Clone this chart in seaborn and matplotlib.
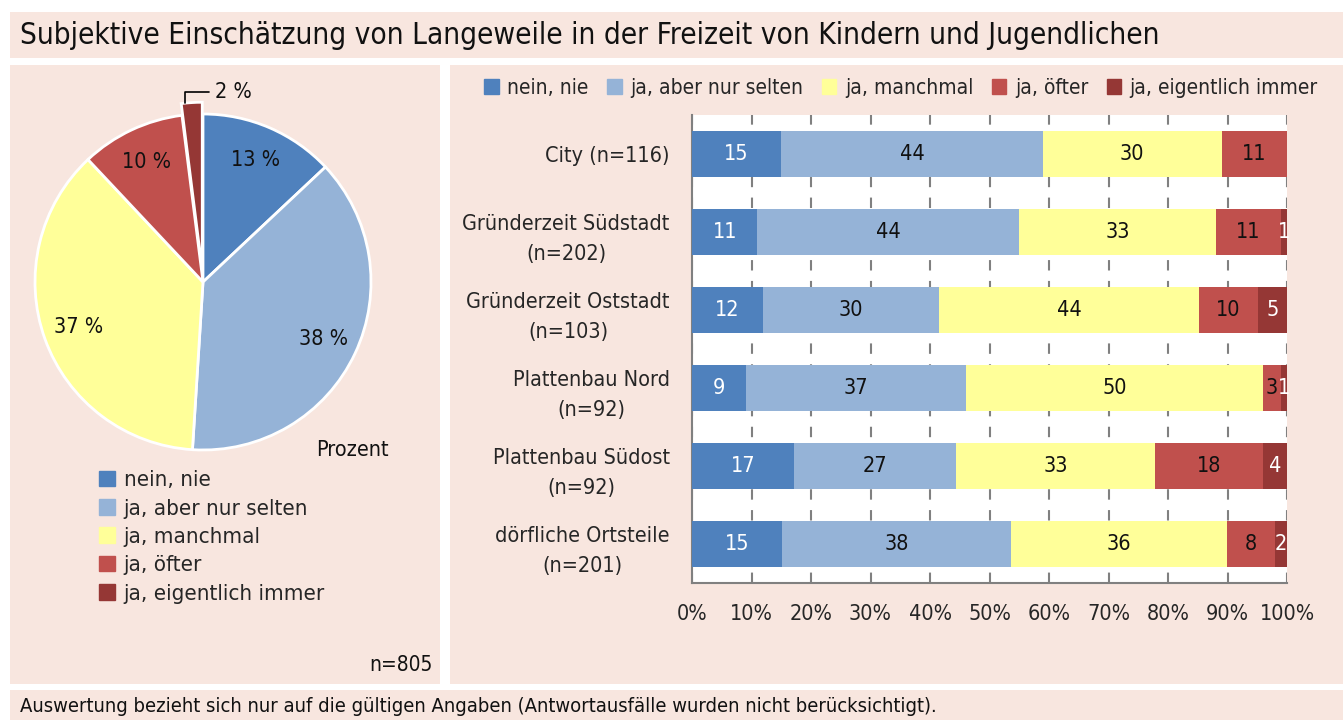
import numpy as np
import pandas as pd
import matplotlib
matplotlib.use('Agg')
import matplotlib.pyplot as plt
import matplotlib.patches as mpatches
import seaborn as sns

# Daten
antworten = ['nein, nie', 'ja, aber nur selten', 'ja, manchmal', 'ja, öfter', 'ja, eigentlich immer']
pie_werte = [13, 38, 37, 10, 2]

gebiete = ['City (n=116)', 'Gründerzeit Südstadt\n(n=202)', 'Gründerzeit Oststadt\n(n=103)',
           'Plattenbau Nord\n(n=92)', 'Plattenbau Südost\n(n=92)', 'dörfliche Ortsteile\n(n=201)']
nein_nie = [15, 11, 12, 9, 17, 15]
selten = [44, 44, 30, 37, 27, 38]
manchmal = [30, 33, 44, 50, 33, 36]
oefter = [11, 11, 10, 3, 18, 8]
immer = [0, 1, 5, 1, 4, 2]

farben = ['#4F81BD', '#95B3D7', '#FFFF99', '#C0504D', '#953735']
rosa = '#F8E6DF'

sns.set_style('white')
plt.rcParams['font.family'] = ['DejaVu Sans']
plt.rcParams['font.stretch'] = 'condensed'

W, H = 1343, 720
fig = plt.figure(figsize=(W / 100, H / 100), dpi=100)
fig.patch.set_facecolor('white')

def px_rect(x0, y0, x1, y1):
    return mpatches.Rectangle((x0 / W, 1 - y1 / H), (x1 - x0) / W, (y1 - y0) / H,
                              transform=fig.transFigure, facecolor=rosa, edgecolor='none', zorder=-10)

for r in [(10, 12, 1343, 58), (10, 65, 440, 684), (450, 65, 1343, 684), (10, 690, 1343, 720)]:
    fig.patches.append(px_rect(*r))

fig.text(20 / W, 1 - 35 / H, 'Subjektive Einschätzung von Langeweile in der Freizeit von Kindern und Jugendlichen',
         fontsize=21.3, va='center', ha='left', color='#111111')
fig.text(20 / W, 1 - 706 / H,
         'Auswertung bezieht sich nur auf die gültigen Angaben (Antwortausfälle wurden nicht berücksichtigt).',
         fontsize=14.5, va='center', ha='left', color='#111111')

# Kreisdiagramm
ax1 = fig.add_axes([35 / W, 1 - 450 / H, 336 / W, 336 / H])
wedges, texts, autotexts = ax1.pie(
    pie_werte, colors=farben, startangle=90, counterclock=False,
    explode=[0, 0, 0, 0, 0.07],
    autopct=lambda p: f'{p:.0f} %', pctdistance=0.79,
    wedgeprops=dict(edgecolor='white', linewidth=2),
    textprops=dict(fontsize=15.5, color='#111111'))
autotexts[-1].set_visible(False)
ax1.set_xlim(-1, 1)
ax1.set_ylim(-1, 1)
ax1.set_aspect('equal')
ax1.axis('off')

# Beschriftung des kleinen Segments mit Führungslinie
w = wedges[-1]
mid = np.deg2rad((w.theta1 + w.theta2) / 2)
start = (1.07 * np.cos(mid) - 0.04, 1.07 * np.sin(mid))
ax1.annotate(autotexts[-1].get_text(), xy=start, xytext=(0.07, 1.13),
             fontsize=15.5, va='center', ha='left', color='#111111', annotation_clip=False,
             arrowprops=dict(arrowstyle='-', color='black', lw=1.2,
                             connectionstyle='angle,angleA=0,angleB=90,rad=0', shrinkA=2, shrinkB=0))

handles = [mpatches.Patch(color=c) for c in farben]

fig.text(352 / W, 1 - 450 / H, 'Prozent', fontsize=15.5, ha='center', va='center', color='#111111')
fig.legend(handles, antworten, loc='upper left', bbox_to_anchor=(88 / W, 1 - 459 / H),
           frameon=False, fontsize=16, handlelength=0.7, handleheight=0.7, handletextpad=0.4,
           labelspacing=0.38, borderpad=0)
fig.text(433 / W, 1 - 665 / H, 'n=805', fontsize=15, ha='right', va='center', color='#111111')

# Gestapelte Balken
df = pd.DataFrame({a: v for a, v in zip(antworten, [nein_nie, selten, manchmal, oefter, immer])},
                  index=gebiete)
anteile = df.div(df.sum(axis=1), axis=0) * 100
kumuliert = anteile.cumsum(axis=1)

ax2 = fig.add_axes([692 / W, 1 - 583 / H, 595 / W, 468 / H])
ax2.set_facecolor('white')
for k in reversed(range(len(antworten))):
    sns.barplot(x=kumuliert.iloc[:, k].values, y=gebiete, color=farben[k], saturation=1,
                width=0.59, orient='h', linewidth=0, ax=ax2, zorder=3)

for i, g in enumerate(gebiete):
    for k, a in enumerate(antworten):
        v = df.loc[g, a]
        if v == 0:
            continue
        mitte = kumuliert.loc[g, a] - anteile.loc[g, a] / 2
        ax2.text(mitte, i, str(v), ha='center', va='center', fontsize=15.5, zorder=4,
                 color='white' if k in (0, 4) else '#111111')

ax2.set_xlim(0, 100)
ax2.set_ylim(5.5, -0.5)
ax2.set_xticks(range(0, 101, 10))
ax2.set_xticklabels([f'{t}%' for t in range(0, 101, 10)], fontsize=15.5)
ax2.set_yticks(range(len(gebiete)))
ax2.set_yticklabels(gebiete, fontsize=15.5, multialignment='center', linespacing=1.6)
ax2.set_yticks(np.arange(0.5, len(gebiete) - 1, 1), minor=True)
ax2.tick_params(axis='y', which='major', length=0, pad=16)
ax2.tick_params(axis='y', which='minor', length=7, width=1.5, color='#808080', direction='out')
ax2.tick_params(axis='x', length=12, width=1.5, color='#808080', direction='inout', pad=9)
ax2.grid(axis='x', color='#808080', linestyle=(0, (5, 5)), linewidth=1.5, zorder=1)
ax2.set_axisbelow(True)
for s in ['top', 'right']:
    ax2.spines[s].set_visible(False)
for s in ['left', 'bottom']:
    ax2.spines[s].set_color('#808080')
    ax2.spines[s].set_linewidth(1.5)
ax2.set_xlabel('')
ax2.set_ylabel('')

fig.legend(handles, antworten, loc='center', bbox_to_anchor=(901 / W, 1 - 88 / H), ncol=5,
           frameon=False, fontsize=15, handlelength=0.7, handleheight=0.7, handletextpad=0.4,
           columnspacing=0.9)

fig.savefig('out.png', dpi=100, facecolor='white')
